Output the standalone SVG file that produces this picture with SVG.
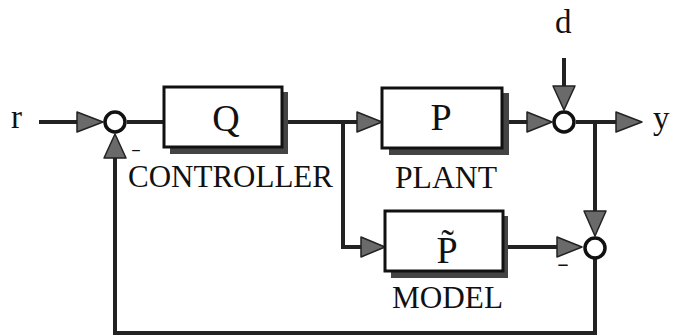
<svg xmlns="http://www.w3.org/2000/svg" width="673" height="336" viewBox="0 0 673 336">
<defs>
<style>
.ln{fill:none;stroke:#222;stroke-width:4;stroke-linejoin:miter}
.ah{fill:#6a6a6a;stroke:#222;stroke-width:1.5;stroke-linejoin:round}
.sum{fill:#fff;stroke:#111;stroke-width:3.5}
.box{fill:#fff;stroke:#111;stroke-width:3}
.shadow{fill:#444}
.t{font-family:"Liberation Serif","Times New Roman",serif;fill:#111}
.lbl{font-size:31px}
.big{font-size:38px;text-anchor:middle}
.sig{font-size:33px}
.minus{font-size:18px;font-weight:bold}
</style>
</defs>
<rect width="673" height="336" fill="#fff"/>
<g id="connectors">
  <path class="ln" d="M39 122 H84"/>
  <path class="ah" d="M77 112 L103 122 L77 132 Z"/>
  <path class="ln" d="M127 122 H164"/>
  <path class="ln" d="M284 122 H364"/>
  <path class="ah" d="M357 112 L382 122 L357 132 Z"/>
  <path class="ln" d="M343 122 V247 H368"/>
  <path class="ah" d="M361 237 L385 247 L361 257 Z"/>
  <path class="ln" d="M504 122 H533"/>
  <path class="ah" d="M527 112 L552 122 L527 132 Z"/>
  <path class="ln" d="M564 58 V92"/>
  <path class="ah" d="M553 86 L564 110 L575 86 Z"/>
  <path class="ln" d="M576 122 H622"/>
  <path class="ah" d="M616 112 L642 122 L616 132 Z"/>
  <path class="ln" d="M595 122 V216"/>
  <path class="ah" d="M584 211 L595 236 L606 211 Z"/>
  <path class="ln" d="M504 247 H563"/>
  <path class="ah" d="M557 237 L582 247 L557 257 Z"/>
  <path class="ln" d="M595 259 V333 H115 V152"/>
  <path class="ah" d="M104 158 L115 134 L126 158 Z"/>
</g>
<g id="sum1">
  <circle class="sum" cx="115" cy="122" r="10"/>
  <text class="t" x="131" y="154" font-size="14" font-weight="bold" textLength="10" lengthAdjust="spacingAndGlyphs">-</text>
</g>
<g id="sum2">
  <circle class="sum" cx="564" cy="122" r="10"/>
</g>
<g id="sum3">
  <circle class="sum" cx="595" cy="248" r="10"/>
  <text class="t minus" x="557" y="270" textLength="12" lengthAdjust="spacingAndGlyphs">-</text>
</g>
<g id="controller">
  <rect class="shadow" x="170" y="92" width="118" height="62"/>
  <rect class="box" x="164" y="87" width="118" height="60"/>
  <text class="t big" x="226" y="131">Q</text>
  <text class="t lbl" x="128" y="187" textLength="205" lengthAdjust="spacingAndGlyphs">CONTROLLER</text>
</g>
<g id="plant">
  <rect class="shadow" x="389" y="93" width="120" height="62"/>
  <rect class="box" x="382" y="88" width="120" height="60"/>
  <text class="t big" x="441" y="130">P</text>
  <text class="t lbl" x="395" y="188" textLength="102" lengthAdjust="spacingAndGlyphs">PLANT</text>
</g>
<g id="model">
  <rect class="shadow" x="391" y="216" width="117" height="62"/>
  <rect class="box" x="385" y="211" width="118" height="60"/>
  <text class="t big" x="447" y="263">P̃</text>
  <text class="t lbl" x="392" y="308" textLength="111" lengthAdjust="spacingAndGlyphs">MODEL</text>
</g>
<g id="signals">
  <text class="t sig" x="11" y="128">r</text>
  <text class="t sig" x="555" y="33">d</text>
  <text class="t sig" x="653" y="129">y</text>
</g>
</svg>
